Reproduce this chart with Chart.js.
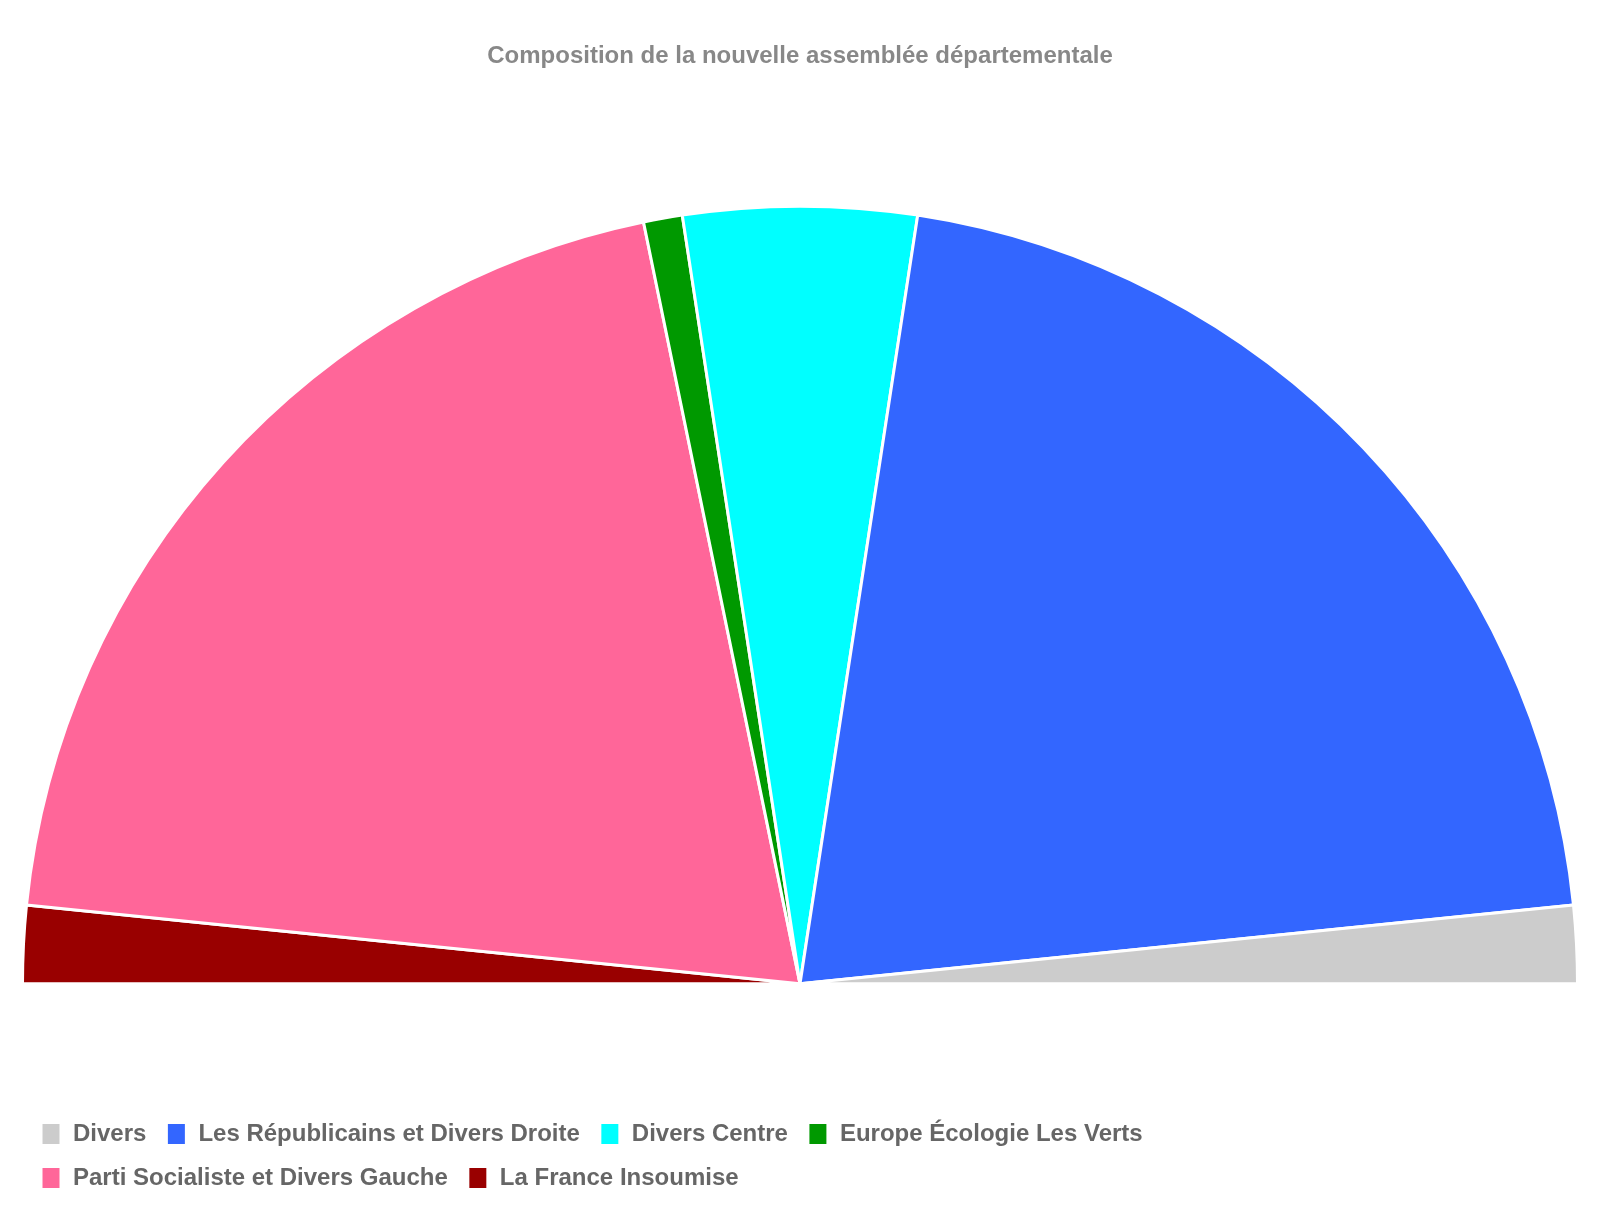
<!DOCTYPE html>
<html>
<head>
<meta charset="utf-8">
<script src="https://cdn.jsdelivr.net/npm/chart.js@4"></script>
<style>
html,body{margin:0;padding:0;background:#fff;}
#wrap{width:1600px;height:1230px;}
</style>
</head>
<body>
<div id="wrap"><canvas id="c"></canvas></div>
<script>
// Parties in legend order
const partyLabels = ["Divers", "Les Républicains et Divers Droite", "Divers Centre", "Europe Écologie Les Verts", "Parti Socialiste et Divers Gauche", "La France Insoumise"];
const seats = [2, 26, 6, 1, 25, 2];
const partyColors = ["#cccccc", "#3366ff", "#00ffff", "#009900", "#ff6699", "#990000"];
const chartTitle = "Composition de la nouvelle assemblée départementale";

// Drawn clockwise from 9 o'clock, so reverse for drawing; legend reversed back
const drawLabels = partyLabels.slice().reverse();
const drawSeats = seats.slice().reverse();
const drawColors = partyColors.slice().reverse();

new Chart(document.getElementById('c'), {
  type: 'pie',
  data: {
    labels: drawLabels,
    datasets: [{
      data: drawSeats,
      backgroundColor: drawColors,
      borderColor: '#ffffff',
      borderWidth: 3
    }]
  },
  options: {
    responsive: true,
    maintainAspectRatio: false,
    animation: false,
    rotation: -90,
    circumference: 180,
    layout: { padding: { top: 20, left: 21, right: 21, bottom: 30 } },
    plugins: {
      title: {
        display: true,
        text: chartTitle,
        color: '#888888',
        font: { family: 'Liberation Sans, Arial, sans-serif', size: 24, weight: 'bold' },
        padding: { top: 22, bottom: 17 }
      },
      legend: {
        display: true,
        position: 'bottom',
        align: 'start',
        reverse: true,
        labels: {
          color: '#666666',
          font: { family: 'Liberation Sans, Arial, sans-serif', size: 24, weight: 'bold' },
          boxWidth: 20,
          boxHeight: 23,
          padding: 20
        }
      },
      tooltip: { enabled: false }
    }
  }
});
</script>
</body>
</html>
